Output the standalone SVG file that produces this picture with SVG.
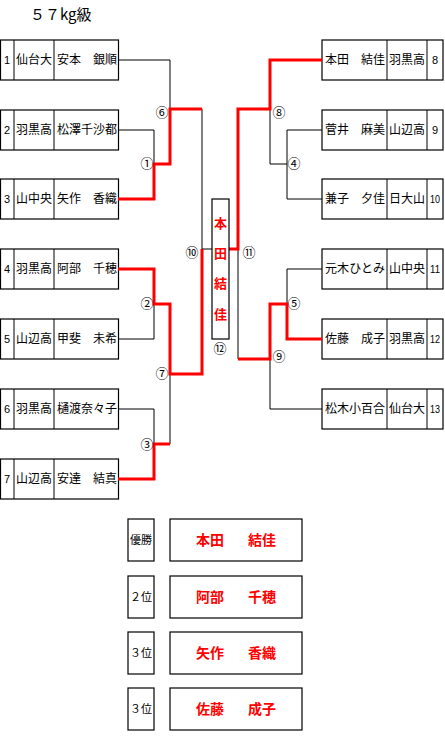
<svg xmlns="http://www.w3.org/2000/svg" width="445" height="737" viewBox="0 0 445 737">
<style>
.bx{fill:#fff;stroke:#000;stroke-width:1.2}
.t{font-family:"Noto Sans CJK JP","Noto Sans CJK SC",sans-serif;font-size:12px;fill:#000}
.n{font-family:"Liberation Sans Narrow","Liberation Sans",sans-serif;font-size:11px;fill:#000;text-anchor:middle}
.c{font-family:"Noto Sans CJK JP",sans-serif;font-size:13px;fill:#000;text-anchor:middle}
.m{text-anchor:middle}
.e{text-anchor:end}
.k{fill:none;stroke:#000;stroke-width:1}
.r{fill:none;stroke:#f00;stroke-width:3}
.w{font-family:"Noto Sans CJK JP",sans-serif;font-size:13px;font-weight:bold;fill:#f00}
.w2{font-family:"Noto Sans CJK JP",sans-serif;font-size:14px;font-weight:bold;fill:#f00}
</style>
<text x="30" y="20" style="font-family:'Noto Sans CJK JP',sans-serif;font-size:15px;fill:#000">５７kg級</text>

<g id="p1"><rect class="bx" x="0.5" y="40" width="118" height="40"/><line class="k" x1="14" y1="40" x2="14" y2="80"/><line class="k" x1="54" y1="40" x2="54" y2="80"/><text class="n" x="7" y="64">1</text><text class="t m" x="34" y="64">仙台大</text><text class="t" x="57" y="64">安本</text><text class="t e" x="117" y="64">銀順</text></g>
<g id="p2"><rect class="bx" x="0.5" y="110" width="118" height="40"/><line class="k" x1="14" y1="110" x2="14" y2="150"/><line class="k" x1="54" y1="110" x2="54" y2="150"/><text class="n" x="7" y="134">2</text><text class="t m" x="34" y="134">羽黒高</text><text class="t" x="57" y="134" textLength="60">松澤千沙都</text></g>
<g id="p3"><rect class="bx" x="0.5" y="179" width="118" height="40"/><line class="k" x1="14" y1="179" x2="14" y2="219"/><line class="k" x1="54" y1="179" x2="54" y2="219"/><text class="n" x="7" y="203">3</text><text class="t m" x="34" y="203">山中央</text><text class="t" x="57" y="203">矢作</text><text class="t e" x="117" y="203">香織</text></g>
<g id="p4"><rect class="bx" x="0.5" y="249" width="118" height="40"/><line class="k" x1="14" y1="249" x2="14" y2="289"/><line class="k" x1="54" y1="249" x2="54" y2="289"/><text class="n" x="7" y="273">4</text><text class="t m" x="34" y="273">羽黒高</text><text class="t" x="57" y="273">阿部</text><text class="t e" x="117" y="273">千穂</text></g>
<g id="p5"><rect class="bx" x="0.5" y="319" width="118" height="40"/><line class="k" x1="14" y1="319" x2="14" y2="359"/><line class="k" x1="54" y1="319" x2="54" y2="359"/><text class="n" x="7" y="343">5</text><text class="t m" x="34" y="343">山辺高</text><text class="t" x="57" y="343">甲斐</text><text class="t e" x="117" y="343">未希</text></g>
<g id="p6"><rect class="bx" x="0.5" y="389" width="118" height="40"/><line class="k" x1="14" y1="389" x2="14" y2="429"/><line class="k" x1="54" y1="389" x2="54" y2="429"/><text class="n" x="7" y="413">6</text><text class="t m" x="34" y="413">羽黒高</text><text class="t" x="57" y="413" textLength="60">樋渡奈々子</text></g>
<g id="p7"><rect class="bx" x="0.5" y="459" width="118" height="40"/><line class="k" x1="14" y1="459" x2="14" y2="499"/><line class="k" x1="54" y1="459" x2="54" y2="499"/><text class="n" x="7" y="483">7</text><text class="t m" x="34" y="483">山辺高</text><text class="t" x="57" y="483">安達</text><text class="t e" x="117" y="483">結真</text></g>

<g id="p8"><rect class="bx" x="322" y="40" width="121" height="40"/><line class="k" x1="387" y1="40" x2="387" y2="80"/><line class="k" x1="427" y1="40" x2="427" y2="80"/><text class="t" x="325" y="64">本田</text><text class="t e" x="385" y="64">結佳</text><text class="t m" x="407" y="64">羽黒高</text><text class="n" x="435" y="64">8</text></g>
<g id="p9"><rect class="bx" x="322" y="110" width="121" height="40"/><line class="k" x1="387" y1="110" x2="387" y2="150"/><line class="k" x1="427" y1="110" x2="427" y2="150"/><text class="t" x="325" y="134">菅井</text><text class="t e" x="385" y="134">麻美</text><text class="t m" x="407" y="134">山辺高</text><text class="n" x="435" y="134">9</text></g>
<g id="p10"><rect class="bx" x="322" y="179" width="121" height="40"/><line class="k" x1="387" y1="179" x2="387" y2="219"/><line class="k" x1="427" y1="179" x2="427" y2="219"/><text class="t" x="325" y="203">兼子</text><text class="t e" x="385" y="203">夕佳</text><text class="t m" x="407" y="203">日大山</text><text class="n" x="435" y="203" textLength="10" lengthAdjust="spacingAndGlyphs">10</text></g>
<g id="p11"><rect class="bx" x="322" y="249" width="121" height="40"/><line class="k" x1="387" y1="249" x2="387" y2="289"/><line class="k" x1="427" y1="249" x2="427" y2="289"/><text class="t" x="325" y="273" textLength="60">元木ひとみ</text><text class="t m" x="407" y="273">山中央</text><text class="n" x="435" y="273" textLength="10" lengthAdjust="spacingAndGlyphs">11</text></g>
<g id="p12"><rect class="bx" x="322" y="319" width="121" height="40"/><line class="k" x1="387" y1="319" x2="387" y2="359"/><line class="k" x1="427" y1="319" x2="427" y2="359"/><text class="t" x="325" y="343">佐藤</text><text class="t e" x="385" y="343">成子</text><text class="t m" x="407" y="343">羽黒高</text><text class="n" x="435" y="343" textLength="10" lengthAdjust="spacingAndGlyphs">12</text></g>
<g id="p13"><rect class="bx" x="322" y="389" width="121" height="40"/><line class="k" x1="387" y1="389" x2="387" y2="429"/><line class="k" x1="427" y1="389" x2="427" y2="429"/><text class="t" x="325" y="413" textLength="60">松木小百合</text><text class="t m" x="407" y="413">仙台大</text><text class="n" x="435" y="413" textLength="10" lengthAdjust="spacingAndGlyphs">13</text></g>

<g id="connectors">
<path class="k" d="M118,60 H170 V109"/>
<path class="k" d="M118,130 H154 V164"/>
<path class="k" d="M118,339 H154 V304"/>
<path class="k" d="M118,409 H154 V444"/>
<path class="k" d="M170,374 V444"/>
<path class="k" d="M202,109 V249 H212"/>
<path class="k" d="M238,249 V359"/>
<path class="k" d="M270,109 V164 H287"/>
<path class="k" d="M322,130 H287 V199 H322"/>
<path class="k" d="M322,269 H287 V304"/>
<path class="k" d="M270,359 V409 H322"/>
<path class="r" d="M118,199 H154 V164 H170 V109 H202"/>
<path class="r" d="M118,269 H154 V304 H170 V374 H202 V249"/>
<path class="r" d="M118,479 H154 V444 H170"/>
<path class="r" d="M229,249 H238 V109 H270 V60 H322"/>
<path class="r" d="M238,359 H270 V304 H287 V339 H322"/>
</g>

<g id="labels">
<text class="c" x="162" y="117">⑥</text>
<text class="c" x="147" y="168">①</text>
<text class="c" x="147" y="308">②</text>
<text class="c" x="162" y="378">⑦</text>
<text class="c" x="147" y="449">③</text>
<text class="c" x="192" y="257">⑩</text>
<text class="c" x="249" y="257">⑪</text>
<text class="c" x="279" y="117">⑧</text>
<text class="c" x="294" y="168">④</text>
<text class="c" x="294" y="308">⑤</text>
<text class="c" x="279" y="361">⑨</text>
<text class="c" x="220" y="353">⑫</text>
</g>

<g id="champion">
<rect class="bx" x="212" y="199" width="17" height="140"/>
<text class="w" x="220.5" y="228" text-anchor="middle">本</text>
<text class="w" x="220.5" y="258" text-anchor="middle">田</text>
<text class="w" x="220.5" y="288" text-anchor="middle">結</text>
<text class="w" x="220.5" y="319" text-anchor="middle">佳</text>
</g>

<g id="r1"><rect class="bx" x="128" y="519" width="26" height="42"/><rect class="bx" x="170" y="519" width="132" height="42"/><text class="t m" x="141" y="544" style="font-size:11px">優勝</text><text class="w2" x="196" y="545">本田</text><text class="w2" x="248" y="545">結佳</text></g>
<g id="r2"><rect class="bx" x="128" y="576" width="26" height="42"/><rect class="bx" x="170" y="576" width="132" height="42"/><text class="t m" x="141" y="601" style="font-size:11px">２位</text><text class="w2" x="196" y="602">阿部</text><text class="w2" x="248" y="602">千穂</text></g>
<g id="r3"><rect class="bx" x="128" y="632" width="26" height="42"/><rect class="bx" x="170" y="632" width="132" height="42"/><text class="t m" x="141" y="657" style="font-size:11px">３位</text><text class="w2" x="196" y="658">矢作</text><text class="w2" x="248" y="658">香織</text></g>
<g id="r4"><rect class="bx" x="128" y="688" width="26" height="42"/><rect class="bx" x="170" y="688" width="132" height="42"/><text class="t m" x="141" y="713" style="font-size:11px">３位</text><text class="w2" x="196" y="714">佐藤</text><text class="w2" x="248" y="714">成子</text></g>
</svg>
